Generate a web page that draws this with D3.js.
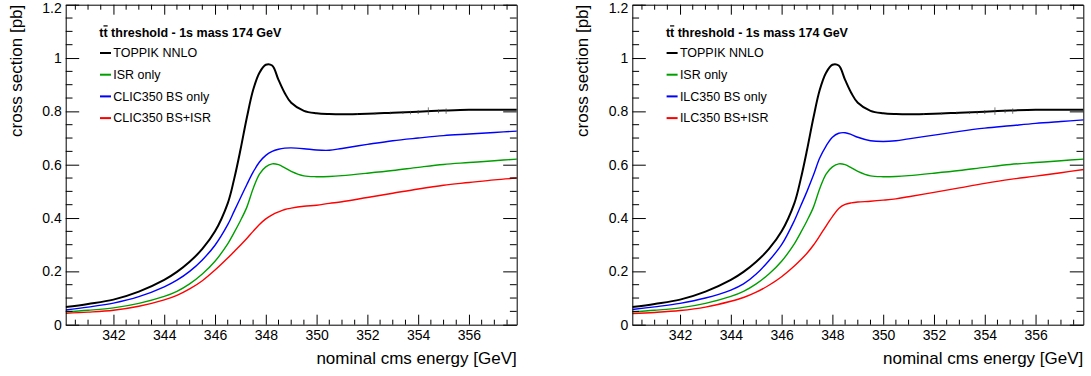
<!DOCTYPE html>
<html>
<head>
<meta charset="utf-8">
<script src="https://cdn.jsdelivr.net/npm/d3@7"></script>
<style>
  body { margin: 0; background: #fff; }
  svg { font-family: "Liberation Sans", Arial, sans-serif; }
  .axis path, .axis line { stroke: #000; }
  .axis text { font-size: 14px; fill: #000; }
</style>
</head>
<body>
<div id="chart"></div>
<script>
// energy grid shared by all curves [GeV]
var energy = [340.12, 341, 342, 343, 344, 344.5, 345, 345.5, 346, 346.5, 346.75, 347, 347.25, 347.5, 347.75, 348,
              348.25, 348.5, 348.75, 349, 349.5, 350, 350.5, 351, 352, 353, 354, 355, 356, 357, 357.9];

// cross sections [pb]
var toppik = [0.066, 0.078, 0.094, 0.124, 0.168, 0.198, 0.236, 0.284, 0.35, 0.455, 0.545, 0.655, 0.775, 0.88, 0.945, 0.975,
              0.972, 0.918, 0.868, 0.832, 0.802, 0.793, 0.79, 0.789, 0.791, 0.795, 0.799, 0.803, 0.806, 0.806, 0.806];
var isrOnly = [0.048, 0.054, 0.063, 0.08, 0.106, 0.125, 0.153, 0.19, 0.238, 0.303, 0.345, 0.39, 0.44, 0.51, 0.565, 0.592,
               0.603, 0.6, 0.588, 0.575, 0.558, 0.555, 0.556, 0.559, 0.568, 0.578, 0.59, 0.601, 0.608, 0.615, 0.621];
var clicBS = [0.055, 0.066, 0.081, 0.105, 0.142, 0.167, 0.2, 0.243, 0.298, 0.375, 0.425, 0.475, 0.525, 0.572, 0.61, 0.635,
              0.65, 0.658, 0.662, 0.663, 0.66, 0.655, 0.654, 0.661, 0.676, 0.69, 0.7, 0.709, 0.715, 0.721, 0.726];
var clicBSISR = [0.043, 0.047, 0.054, 0.069, 0.093, 0.11, 0.134, 0.165, 0.205, 0.25, 0.274, 0.298, 0.323, 0.35, 0.376, 0.397,
                 0.412, 0.423, 0.432, 0.437, 0.444, 0.448, 0.455, 0.461, 0.477, 0.493, 0.509, 0.523, 0.533, 0.543, 0.55];
var ilcBS = [0.057, 0.067, 0.08, 0.1, 0.13, 0.153, 0.19, 0.24, 0.3, 0.39, 0.445, 0.5, 0.56, 0.625, 0.67, 0.703,
             0.718, 0.72, 0.713, 0.703, 0.69, 0.687, 0.69, 0.697, 0.711, 0.725, 0.737, 0.746, 0.755, 0.762, 0.768];
var ilcBSISR = [0.042, 0.046, 0.053, 0.066, 0.088, 0.102, 0.122, 0.148, 0.18, 0.22, 0.243, 0.268, 0.298, 0.333, 0.37, 0.405,
                0.436, 0.451, 0.457, 0.46, 0.463, 0.467, 0.472, 0.48, 0.496, 0.513, 0.53, 0.545, 0.557, 0.57, 0.582];

// small spikes on the TOPPIK curve: [energy, low, high]
var toppikNoise = [[351.6, 0.787, 0.794], [352.3, 0.788, 0.796], [352.9, 0.789, 0.799], [353.4, 0.79, 0.801],
                   [353.7, 0.789, 0.802], [354.0, 0.79, 0.805], [354.4, 0.787, 0.815], [354.8, 0.793, 0.807],
                   [355.1, 0.791, 0.811]];

var xTicks = [342, 344, 346, 348, 350, 352, 354, 356];
var yTicks = [0, 0.2, 0.4, 0.6, 0.8, 1, 1.2];

var header = "threshold - 1s mass 174 GeV";
var panels = [
  {left: 65.7, names: ["TOPPIK NNLO", "ISR only", "CLIC350 BS only", "CLIC350 BS+ISR"],
   series: [toppik, isrOnly, clicBS, clicBSISR]},
  {left: 632.3, names: ["TOPPIK NNLO", "ISR only", "ILC350 BS only", "ILC350 BS+ISR"],
   series: [toppik, isrOnly, ilcBS, ilcBSISR]}
];
var colors = ["#000000", "#009f00", "#0000ff", "#ff0000"];
var widths = [2, 1.4, 1.4, 1.4];

var width = 451, plotTop = 4.7, height = 320;

var svg = d3.select("#chart").append("svg")
    .attr("width", 1091)
    .attr("height", 376);

var xScale = d3.scaleLinear().domain([340.12, 357.88]).range([0, width]);
var yScale = d3.scaleLinear().domain([0, 1.2]).range([height, 0]);

var xMinor = d3.range(340.5, 358, 0.5).filter(function(d) { return d % 2 !== 0; });
var yMinor = d3.range(0.05, 1.2, 0.05).filter(function(d) { return Math.abs(d / 0.2 - Math.round(d / 0.2)) > 0.01; });

panels.forEach(function(p, pi) {
  var g = svg.append("g").attr("transform", `translate(${p.left}, ${plotTop})`);

  var clipId = "clip" + pi;
  g.append("clipPath").attr("id", clipId)
    .append("rect").attr("width", width).attr("height", height);

  // Curves
  var line = d3.line()
      .x(function(d, i) { return xScale(energy[i]); })
      .y(function(d) { return yScale(d); })
      .curve(d3.curveCatmullRom.alpha(0.5));

  var plot = g.append("g").attr("clip-path", `url(#${clipId})`);

  for (var s = p.series.length - 1; s >= 0; s--) {
    plot.append("path")
      .attr("d", line(p.series[s]))
      .attr("fill", "none")
      .attr("stroke", colors[s])
      .attr("stroke-width", widths[s]);
  }

  plot.selectAll(".noise")
    .data(toppikNoise)
    .enter().append("line")
    .attr("x1", function(d) { return xScale(d[0]); })
    .attr("x2", function(d) { return xScale(d[0]); })
    .attr("y1", function(d) { return yScale(d[1]); })
    .attr("y2", function(d) { return yScale(d[2]); })
    .attr("stroke", "#444")
    .attr("stroke-width", 0.7);

  // Axes, ticks pointing inside the frame
  g.append("g").attr("class", "axis")
    .attr("transform", `translate(0, ${height})`)
    .call(d3.axisBottom(xScale).tickValues(xTicks).tickSizeInner(-10).tickSizeOuter(0).tickPadding(5));
  g.append("g").attr("class", "axis")
    .call(d3.axisTop(xScale).tickValues(xTicks).tickSizeInner(-10).tickSizeOuter(0).tickFormat(""));
  var yAxis = g.append("g").attr("class", "axis")
    .call(d3.axisLeft(yScale).tickValues(yTicks).tickSizeInner(-13.5).tickSizeOuter(0).tickPadding(4)
      .tickFormat(function(d) { return String(+d.toFixed(1)); }));
  // keep the top label inside the picture
  yAxis.selectAll(".tick text").filter(function(d) { return d === 1.2; }).attr("dy", "0.55em");
  g.append("g").attr("class", "axis")
    .attr("transform", `translate(${width}, 0)`)
    .call(d3.axisRight(yScale).tickValues(yTicks).tickSizeInner(-13.5).tickSizeOuter(0).tickFormat(""));

  // Minor ticks
  [0, height].forEach(function(yy) {
    g.selectAll(null).data(xMinor).enter().append("line")
      .attr("x1", function(d) { return xScale(d); })
      .attr("x2", function(d) { return xScale(d); })
      .attr("y1", yy)
      .attr("y2", yy === 0 ? 5 : height - 5)
      .attr("stroke", "#000");
  });
  [0, width].forEach(function(xx) {
    g.selectAll(null).data(yMinor).enter().append("line")
      .attr("y1", function(d) { return yScale(d); })
      .attr("y2", function(d) { return yScale(d); })
      .attr("x1", xx)
      .attr("x2", xx === 0 ? 6.8 : width - 6.8)
      .attr("stroke", "#000");
  });

  // Axis titles
  g.append("text")
    .attr("x", width)
    .attr("y", 359)
    .attr("text-anchor", "end")
    .style("font-size", "17px")
    .text("nominal cms energy [GeV]");

  g.append("text")
    .attr("transform", "rotate(-90)")
    .attr("x", 0)
    .attr("y", -44)
    .attr("text-anchor", "end")
    .style("font-size", "17px")
    .text("cross section [pb]");

  // Legend
  var hdr = g.append("text")
    .attr("x", 33.6)
    .attr("y", 32.6)
    .style("font-size", "12.5px")
    .style("font-weight", "bold");
  hdr.append("tspan").text("t");
  hdr.append("tspan").style("text-decoration", "overline").text("t");
  hdr.append("tspan").text(" " + header);

  p.names.forEach(function(name, i) {
    var by = 52.6 + i * 21.7;
    g.append("line")
      .attr("x1", 34.3).attr("x2", 45.3)
      .attr("y1", by - 4.3).attr("y2", by - 4.3)
      .attr("stroke", colors[i])
      .attr("stroke-width", 2);
    g.append("text")
      .attr("x", 47.6)
      .attr("y", by)
      .style("font-size", "12.5px")
      .text(name);
  });
});
</script>
</body>
</html>
